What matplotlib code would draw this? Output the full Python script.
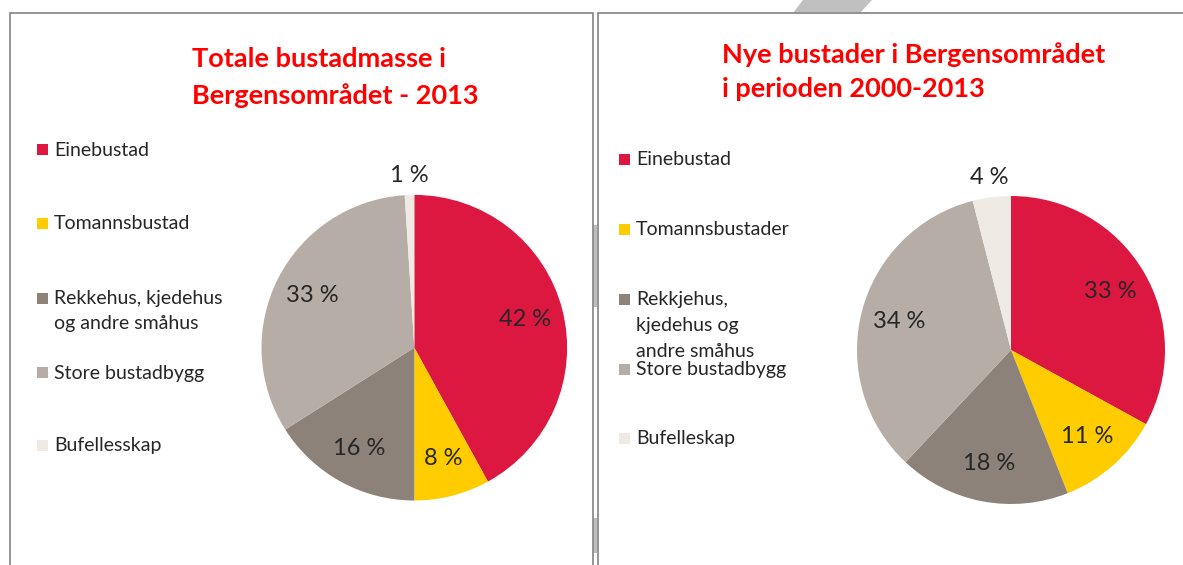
import matplotlib
matplotlib.use("Agg")
import matplotlib.pyplot as plt
from matplotlib.patches import Rectangle, Polygon
import numpy as np

# ---------------- data ----------------
titles = ["Totale bustadmasse i\nBergensområdet - 2013",
          "Nye bustader i Bergensområdet\ni perioden 2000-2013"]
legend_left = ["Einebustad", "Tomannsbustad", "Rekkehus, kjedehus\nog andre småhus",
               "Store bustadbygg", "Bufellesskap"]
legend_right = ["Einebustad", "Tomannsbustader", "Rekkjehus,\nkjedehus og\nandre småhus",
                "Store bustadbygg", "Bufelleskap"]
values_left = [42, 8, 16, 33, 1]
values_right = [33, 11, 18, 34, 4]
colors = ["#DC1840", "#FFCC00", "#8C8279", "#B6AEA6", "#EFEBE4"]

W, H = 1183, 565
fig = plt.figure(figsize=(W / 100, H / 100), dpi=100)
FONT = "Lato"
TXT = "#262626"


def fx(x):
    return x / W


def fy(y):
    return 1 - y / H


def lines_text(x, y, s, step, **kw):
    for i, line in enumerate(s.split("\n")):
        fig.text(fx(x), fy(y + i * step), line, ha="left", va="baseline", **kw)


# watermark bits
fig.patches.append(Polygon([(fx(793), fy(13)), (fx(803), fy(0)), (fx(872), fy(0)), (fx(860), fy(13))],
                           closed=True, transform=fig.transFigure, facecolor="#c0c0c0",
                           edgecolor="none", zorder=0))
for (y0, y1) in [(225, 307), (518, 553)]:
    fig.patches.append(Rectangle((fx(593), fy(y1)), fx(4), (y1 - y0) / H, transform=fig.transFigure,
                                 facecolor="#bdbdbd", edgecolor="none", zorder=0))

# panel borders
for (x0, x1) in [(9.5, 593), (597.5, 1200)]:
    fig.patches.append(Rectangle((fx(x0), fy(600)), fx(x1 - x0), (600 - 13) / H,
                                 transform=fig.transFigure, facecolor="none",
                                 edgecolor="#8c8c8c", linewidth=1.3, zorder=1))

panels = [
    dict(title=titles[0], tx=191.5, ty=66.7, tstep=37.3, tfs=19.5, legend=legend_left,
         vals=values_left, mx=36.5, lx=54, base=[155.5, 229, 304, 378.5, 451], lstep=25.5,
         cx=414.3, cy=347.7, r=152.8),
    dict(title=titles[1], tx=722.5, ty=63.3, tstep=33.4, tfs=19.5, legend=legend_right,
         vals=values_right, mx=618.5, lx=636, base=[165, 235, 305, 375, 444], lstep=26,
         cx=1011, cy=350, r=154),
]

for p in panels:
    lines_text(p["tx"], p["ty"], p["title"], p["tstep"], color="#FF0000", fontsize=p["tfs"],
               fontweight="bold", family=FONT)
    for lab, col, b in zip(p["legend"], colors, p["base"]):
        fig.patches.append(Rectangle((fx(p["mx"]), fy(b - 0.5)), fx(11), 11 / H,
                                     transform=fig.transFigure, facecolor=col,
                                     edgecolor="none", zorder=2))
        lines_text(p["lx"], b, lab, p["lstep"], color=TXT, fontsize=14, family=FONT)

    r = p["r"]
    ax = fig.add_axes([fx(p["cx"] - r), fy(p["cy"] + r), fx(2 * r), 2 * r / H])
    vals = p["vals"]
    wedges, texts, autotexts = ax.pie(
        vals, colors=colors, startangle=90, counterclock=False,
        autopct=lambda v: f"{v:.0f} %", pctdistance=0.75,
        wedgeprops=dict(linewidth=0),
        textprops=dict(color=TXT, fontsize=17, family=FONT))
    for w, t, v in zip(wedges, autotexts, vals):
        if v < 5:
            ang = np.deg2rad((w.theta1 + w.theta2) / 2)
            t.set_position((1.13 * np.cos(ang), 1.13 * np.sin(ang)))
    ax.set_xlim(-1, 1)
    ax.set_ylim(-1, 1)
    ax.set_aspect("equal")
    ax.axis("off")

fig.savefig("out.png", dpi=100, facecolor="white")
